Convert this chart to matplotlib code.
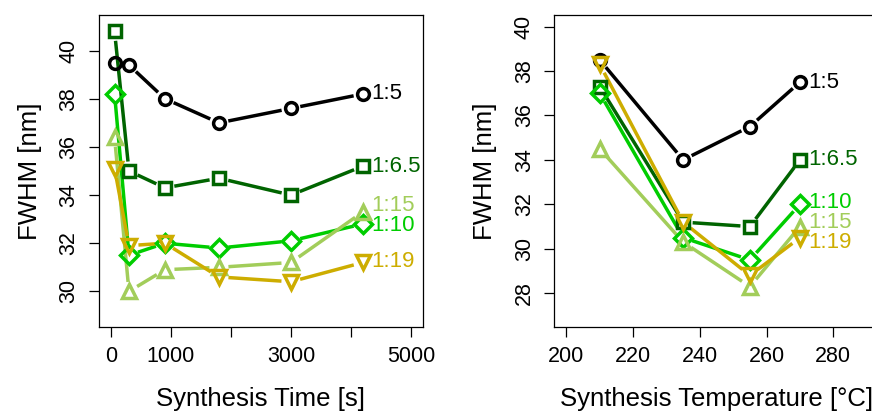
import numpy as np
import matplotlib
matplotlib.use("Agg")
import matplotlib.pyplot as plt

plt.rcParams['font.family'] = ['Liberation Sans', 'DejaVu Sans']

# ratios shown in both panels
ratios = ["1:5", "1:6.5", "1:10", "1:15", "1:19"]
colors = ["black", "#006400", "#00CD00", "#A2CD5A", "#CDAD00"]
markers = ["o", "s", "D", "^", "v"]
msizes = [8.5, 8.3, 9.5, 10.0, 10.0]

# left: synthesis time
time_s = [60, 300, 900, 1800, 3000, 4200]
fwhm_time = [
    [39.5, 39.4, 38.0, 37.0, 37.6, 38.2],
    [40.8, 35.0, 34.3, 34.7, 34.0, 35.2],
    [38.2, 31.5, 32.0, 31.8, 32.1, 32.8],
    [36.4, 30.0, 30.9, 31.0, 31.2, 33.3],
    [35.1, 31.9, 32.0, 30.6, 30.4, 31.2],
]
label_y_time = [38.2, 35.2, 32.75, 33.55, 31.25]

# right: synthesis temperature
temp_c = [210, 235, 255, 270]
fwhm_temp = [
    [38.5, 34.0, 35.5, 37.5],
    [37.3, 31.2, 31.0, 34.0],
    [37.0, 30.5, 29.5, 32.0],
    [34.5, 30.3, 28.3, 31.0],
    [38.3, 31.2, 28.8, 30.5],
]
label_y_temp = [37.5, 34.0, 32.1, 31.2, 30.3]

fig = plt.figure(figsize=(8.72, 4.12), dpi=100)
ax1 = fig.add_axes([0.1135, 0.2063, 0.3715, 0.7573])
ax2 = fig.add_axes([0.6357, 0.2063, 0.372, 0.7573])


def gapped_line(ax, x, y, color, gap=9.5):
    # R type="b": segments stop short of the points
    pts = ax.transData.transform(np.column_stack([x, y]))
    inv = ax.transData.inverted()
    for p, q in zip(pts[:-1], pts[1:]):
        d = q - p
        n = np.hypot(*d)
        if n <= 2 * gap:
            continue
        u = d / n
        seg = inv.transform(np.array([p + u * gap, q - u * gap]))
        ax.plot(seg[:, 0], seg[:, 1], color=color, lw=2.5,
                solid_capstyle='butt', zorder=2)


def panel(ax, x, ys, label_ys, xlim, ylim, xticks, xticklabels, yticks, xlabel):
    ax.set_xlim(*xlim)
    ax.set_ylim(*ylim)
    for i, y in enumerate(ys):
        gapped_line(ax, x, y, colors[i])
        ax.plot(x, y, ls='none', marker=markers[i], ms=msizes[i],
                mfc='none', mec=colors[i], mew=2.5, zorder=3)
        ax.annotate(ratios[i], (x[-1], label_ys[i]), xytext=(6, 0),
                    textcoords='offset points', ha='left', va='center',
                    color=colors[i], fontsize=16)
    ax.set_xticks(xticks)
    ax.set_xticklabels(xticklabels)
    ax.set_yticks(yticks)
    ax.set_yticklabels([str(v) for v in yticks], rotation=90, va='center')
    ax.tick_params(direction='out', length=7, width=0.9, pad=7, labelsize=15.5)
    for s in ax.spines.values():
        s.set_linewidth(0.9)
    ax.set_xlabel(xlabel, fontsize=18.5, labelpad=14)
    ax.set_ylabel("FWHM [nm]", fontsize=18.5, labelpad=12)


panel(ax1, time_s, fwhm_time, label_y_time, (-200, 5200), (28.52, 41.48),
      [0, 1000, 2000, 3000, 4000, 5000], ["0", "1000", "", "3000", "", "5000"],
      [30, 32, 34, 36, 38, 40], "Synthesis Time [s]")
panel(ax2, temp_c, fwhm_temp, label_y_temp, (196.4, 293.6), (26.48, 40.52),
      [200, 220, 240, 260, 280], ["200", "220", "240", "260", "280"],
      [28, 30, 32, 34, 36, 38, 40], "Synthesis Temperature [°C]")

fig.savefig("out.png", dpi=100)
